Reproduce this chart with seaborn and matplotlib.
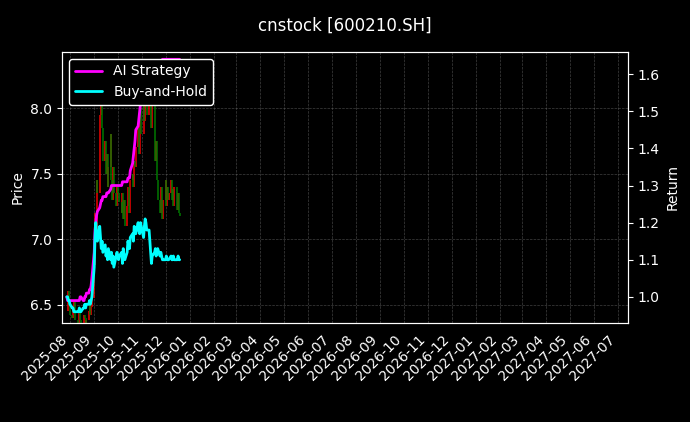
import numpy as np
import pandas as pd
import matplotlib
matplotlib.use('Agg')
import matplotlib.pyplot as plt
import matplotlib.dates as mdates
from matplotlib.ticker import MultipleLocator
import seaborn as sns

# ----- DATA -----
dates = pd.bdate_range('2025-07-28', '2025-12-19')

close = [6.45, 6.55, 6.60, 6.50, 6.42,
         6.40, 6.48, 6.52, 6.45, 6.38,
         6.35, 6.40, 6.44, 6.38, 6.33,
         6.36, 6.42, 6.40, 6.34, 6.38,
         6.45, 6.50, 6.42, 6.48, 6.55,
         6.80, 7.20, 7.05, 7.45, 7.35,
         7.70, 7.95, 8.15, 7.85, 7.60,
         7.75, 7.50, 7.65, 7.40, 7.55,
         7.80, 7.45, 7.30, 7.55, 7.35,
         7.25, 7.40, 7.35, 7.30, 7.28,
         7.20, 7.35, 7.15, 7.30, 7.10,
         7.25, 7.40, 7.32, 7.20, 7.45,
         7.50, 7.40, 7.60, 7.55, 7.70,
         7.85, 7.65, 7.95, 8.00, 7.80,
         8.05, 7.90, 8.15, 8.20, 7.95,
         8.10, 8.30, 8.00, 7.85, 8.05,
         7.80, 7.60, 7.75, 7.45, 7.30,
         7.20, 7.40, 7.35, 7.15, 7.30,
         7.45, 7.25, 7.40, 7.30, 7.35,
         7.45, 7.30, 7.38, 7.25, 7.40,
         7.30, 7.22, 7.35, 7.20, 7.18]

ai_return = [1.00, 0.99, 0.99, 0.99, 0.99,
             0.99, 0.99, 0.99, 0.99, 0.99,
             0.99, 0.99, 0.99, 1.00, 1.00,
             0.99, 0.99, 1.00, 1.00, 1.01,
             1.01, 1.02, 1.02, 1.03, 1.05,
             1.12, 1.18, 1.20, 1.22, 1.23,
             1.24, 1.25, 1.26, 1.26, 1.27,
             1.27, 1.27, 1.28, 1.28, 1.28,
             1.29, 1.30, 1.30, 1.30, 1.30,
             1.30, 1.30, 1.30, 1.30, 1.30,
             1.30, 1.31, 1.31, 1.31, 1.31,
             1.31, 1.32, 1.32, 1.32, 1.34,
             1.36, 1.38, 1.40, 1.42, 1.45,
             1.46, 1.48, 1.50, 1.52, 1.54,
             1.55, 1.57, 1.58, 1.60, 1.61,
             1.61, 1.62, 1.62, 1.63, 1.63,
             1.63, 1.63, 1.63, 1.63, 1.63,
             1.63, 1.63, 1.63, 1.64, 1.64,
             1.64, 1.64, 1.64, 1.64, 1.64,
             1.64, 1.64, 1.64, 1.64, 1.64,
             1.64, 1.64, 1.64, 1.64, 1.64]

bh_return = [1.00, 1.00, 0.99, 0.99, 0.98,
             0.97, 0.97, 0.96, 0.96, 0.96,
             0.96, 0.96, 0.97, 0.96, 0.96,
             0.97, 0.97, 0.98, 0.97, 0.98,
             0.98, 0.99, 0.98, 0.99, 1.00,
             1.08, 1.16, 1.20, 1.17, 1.15,
             1.19, 1.16, 1.13, 1.15, 1.12,
             1.14, 1.11, 1.12, 1.10, 1.13,
             1.10, 1.12, 1.09, 1.11, 1.08,
             1.11, 1.12, 1.11, 1.10, 1.11,
             1.12, 1.09, 1.13, 1.11, 1.10,
             1.12, 1.15, 1.14, 1.13, 1.16,
             1.17, 1.15, 1.19, 1.18, 1.17,
             1.20, 1.18, 1.17, 1.20, 1.19,
             1.16, 1.19, 1.21, 1.20, 1.18,
             1.18, 1.15, 1.12, 1.09, 1.11,
             1.12, 1.13, 1.11, 1.12, 1.13,
             1.11, 1.12, 1.11, 1.10, 1.10,
             1.10, 1.11, 1.10, 1.10, 1.10,
             1.11, 1.10, 1.10, 1.11, 1.10,
             1.10, 1.10, 1.11, 1.10, 1.10]

df = pd.DataFrame({'date': dates, 'close': close, 'ai': ai_return, 'bh': bh_return})
df['open'] = df['close'].shift(1).fillna(df['close'].iloc[0])

# ----- PLOT -----
plt.style.use('dark_background')
sns.set_style('dark', {'axes.facecolor': 'black', 'figure.facecolor': 'black'})
plt.rcParams['font.family'] = ['DejaVu Sans']
plt.rcParams['text.color'] = 'white'
plt.rcParams['xtick.color'] = 'white'
plt.rcParams['ytick.color'] = 'white'
plt.rcParams['axes.labelcolor'] = 'white'

fig, ax = plt.subplots(figsize=(6.9, 4.22), dpi=100)
fig.patch.set_facecolor('black')
ax.set_facecolor('black')
fig.subplots_adjust(left=0.09, right=0.91, top=0.877, bottom=0.235)

up = df['close'] >= df['open']
ax.vlines(df['date'][up], df['open'][up], df['close'][up], color='red', linewidth=1.3, alpha=0.8)
ax.vlines(df['date'][~up], df['open'][~up], df['close'][~up], color='green', linewidth=1.3, alpha=0.8)
ax.set_ylim(6.36, 8.43)
ax.yaxis.set_major_locator(MultipleLocator(0.5))
ax.set_ylabel('Price')
ax.grid(True, color='gray', linestyle='--', linewidth=0.5, alpha=0.5)

ax2 = ax.twinx()
sns.lineplot(data=df, x='date', y='ai', ax=ax2, color='magenta', linewidth=2, label='AI Strategy')
sns.lineplot(data=df, x='date', y='bh', ax=ax2, color='cyan', linewidth=2, label='Buy-and-Hold')
ax2.set_ylim(0.93, 1.66)
ax2.set_ylabel('Return')
ax2.set_xlabel('')
leg = ax2.legend(loc='upper left', facecolor='black', edgecolor='white', framealpha=1)
for t in leg.get_texts():
    t.set_color('white')

ax.set_xlim(pd.Timestamp('2025-07-22'), pd.Timestamp('2027-07-14'))
ax.xaxis.set_major_locator(mdates.MonthLocator())
ax.xaxis.set_major_formatter(mdates.DateFormatter('%Y-%m'))
plt.setp(ax.get_xticklabels(), rotation=45, ha='right')
for a in (ax, ax2):
    for s in a.spines.values():
        s.set_color('white')

fig.suptitle('cnstock [600210.SH]', color='white', fontsize=12, y=0.96)
fig.savefig('out.png', dpi=100, facecolor='black')
